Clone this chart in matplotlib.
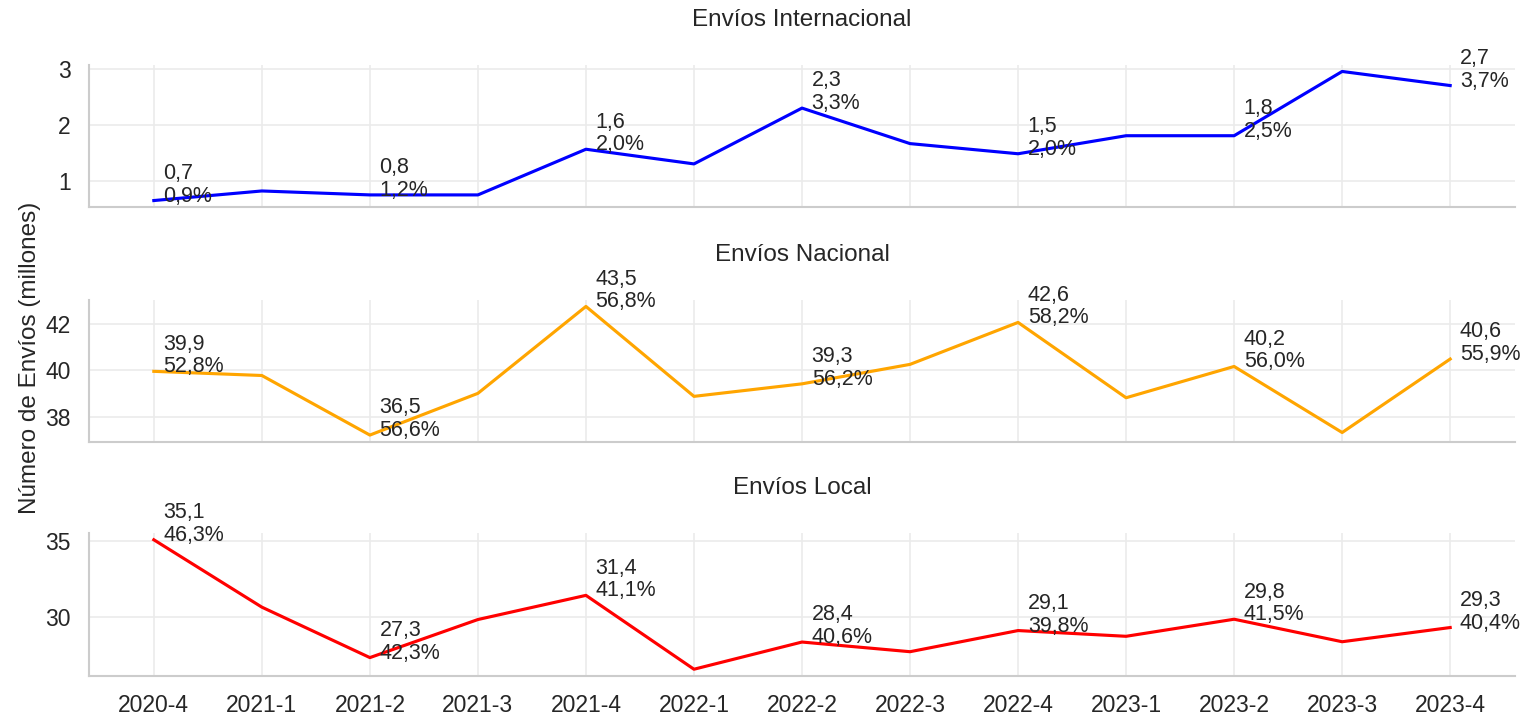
import matplotlib
matplotlib.use("Agg")
import matplotlib.pyplot as plt

plt.rcParams['font.family'] = ['Liberation Sans', 'DejaVu Sans']

quarters = ["2020-4", "2021-1", "2021-2", "2021-3", "2021-4", "2022-1", "2022-2",
            "2022-3", "2022-4", "2023-1", "2023-2", "2023-3", "2023-4"]

internacional = [0.66, 0.83, 0.76, 0.76, 1.57, 1.31, 2.30, 1.67, 1.49, 1.81, 1.81, 2.95, 2.70]
nacional = [39.96, 39.78, 37.21, 39.01, 42.76, 38.88, 39.42, 40.26, 42.07, 38.82, 40.17, 37.32, 40.49]
local = [35.10, 30.64, 27.30, 29.82, 31.42, 26.53, 28.33, 27.69, 29.09, 28.71, 29.84, 28.35, 29.29]

# annotation labels (every other quarter)
label_idx = [0, 2, 4, 6, 8, 10, 12]
internacional_val_lbl = ["0,7", "0,8", "1,6", "2,3", "1,5", "1,8", "2,7"]
internacional_pct_lbl = ["0,9%", "1,2%", "2,0%", "3,3%", "2,0%", "2,5%", "3,7%"]
nacional_val_lbl = ["39,9", "36,5", "43,5", "39,3", "42,6", "40,2", "40,6"]
nacional_pct_lbl = ["52,8%", "56,6%", "56,8%", "56,2%", "58,2%", "56,0%", "55,9%"]
local_val_lbl = ["35,1", "27,3", "31,4", "28,4", "29,1", "29,8", "29,3"]
local_pct_lbl = ["46,3%", "42,3%", "41,1%", "40,6%", "39,8%", "41,5%", "40,4%"]

titles = ["Envíos Internacional", "Envíos Nacional", "Envíos Local"]
colors = ["#0000ff", "#ffa500", "#ff0000"]
yticks = [[1, 2, 3], [38, 40, 42], [30, 35]]

series = [internacional, nacional, local]
val_lbls = [internacional_val_lbl, nacional_val_lbl, local_val_lbl]
pct_lbls = [internacional_pct_lbl, nacional_pct_lbl, local_pct_lbl]

W, H = 1539, 715
fig = plt.figure(figsize=(W / 100, H / 100), dpi=100)

left_px, right_px = 89, 1515
panels = [(65, 207), (300, 441.5), (533.3, 675.7)]
text_color = "#262626"

x = list(range(len(quarters)))
for k, (top, bot) in enumerate(panels):
    ax = fig.add_axes([left_px / W, 1 - bot / H, (right_px - left_px) / W, (bot - top) / H])
    ax.plot(x, series[k], color=colors[k], lw=2.25)
    ax.set_title(titles[k], fontsize=17.5, color=text_color, pad=28)
    ax.set_xlim(-0.6, 12.6)
    ax.set_yticks(yticks[k])
    ax.grid(True, color="#ebebeb", lw=1.2)
    ax.set_axisbelow(True)
    for s in ["top", "right"]:
        ax.spines[s].set_visible(False)
    for s in ["left", "bottom"]:
        ax.spines[s].set_color("#cccccc")
        ax.spines[s].set_linewidth(1.5)
    ax.tick_params(axis="both", length=0, labelsize=16.5, labelcolor=text_color)
    ax.tick_params(axis="y", pad=13)
    ax.tick_params(axis="x", pad=13)
    ax.set_xticks(x)
    if k < 2:
        ax.set_xticklabels([])
    else:
        ax.set_xticklabels(quarters)
    for j, i in enumerate(label_idx):
        ax.annotate(f"{val_lbls[k][j]}\n{pct_lbls[k][j]}", xy=(i, series[k][i]),
                    xytext=(7, -4.3), textcoords="offset points",
                    ha="left", va="bottom", fontsize=15.5, color=text_color,
                    linespacing=1.1, annotation_clip=False)

fig.text(30 / W, 0.5, "Número de Envíos (millones)", rotation=90, ha="center", va="center",
         fontsize=17.5, color=text_color)

fig.savefig("out.png", dpi=100, facecolor="white")
